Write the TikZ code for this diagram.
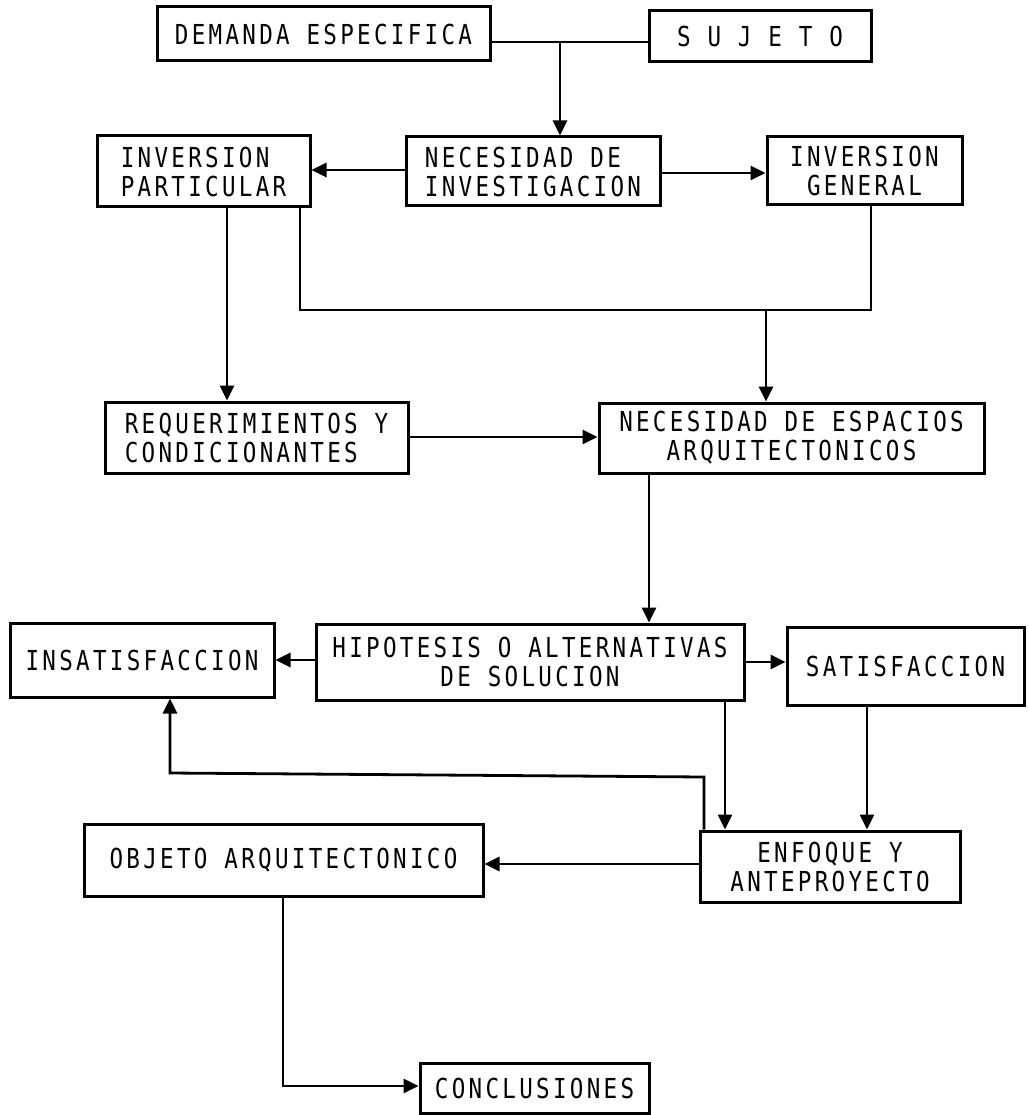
\documentclass[tikz,border=0pt]{standalone}
\usepackage{fontspec}
\newfontfamily\twfont[FakeStretch=0.82,LetterSpace=12]{DejaVu Sans Mono}
\usetikzlibrary{arrows.meta}
\begin{document}
\begin{tikzpicture}[x=1pt,y=-1pt,
  box/.style={draw, line width=3pt, inner sep=0pt, font=\twfont\fontsize{27.5}{29}\selectfont},
  conn/.style={line width=2.8pt},
  arr/.style={conn, -{Triangle[length=15pt,width=14pt]}}
]
\useasboundingbox[fill=white] (0,0) rectangle (1028,1115);

% nodes
\node[box, minimum width=333pt, minimum height=54pt] (dem) at (323.5,34) {DEMANDA ESPECIFICA};
\node[box, minimum width=222pt, minimum height=51pt] (suj) at (760,36.5) {S U J E T O};
\node[box, minimum width=213pt, minimum height=71pt, align=left] (invp) at (203.5,171.5) {INVERSION\\PARTICULAR};
\node[box, minimum width=254pt, minimum height=69pt, align=left] (necinv) at (533,171.5) {NECESIDAD DE\\INVESTIGACION};
\node[box, minimum width=195pt, minimum height=68pt, align=center] (invg) at (864.5,171) {INVERSION\\GENERAL};
\node[box, minimum width=303pt, minimum height=71pt, align=left] (req) at (256.5,437.5) {REQUERIMIENTOS Y\\CONDICIONANTES};
\node[box, minimum width=385pt, minimum height=70pt, align=center] (necesp) at (791.5,438) {NECESIDAD DE ESPACIOS\\ARQUITECTONICOS};
\node[box, minimum width=264pt, minimum height=74pt] (insat) at (142,660) {INSATISFACCION};
\node[box, minimum width=428pt, minimum height=76pt, align=center] (hipot) at (530,662) {HIPOTESIS O ALTERNATIVAS\\DE SOLUCION};
\node[box, minimum width=237pt, minimum height=78pt] (satisf) at (905.5,666) {SATISFACCION};
\node[box, minimum width=399pt, minimum height=72pt] (objeto) at (283.5,860) {OBJETO ARQUITECTONICO};
\node[box, minimum width=260pt, minimum height=71pt, align=center] (enfoque) at (830,866.5) {ENFOQUE Y\\ANTEPROYECTO};
\node[box, minimum width=229pt, minimum height=50pt] (concl) at (534.5,1088) {CONCLUSIONES};

% helper coordinates
\coordinate (j1) at (560,42);
\coordinate (ya) at (0,170);
\coordinate (yb) at (0,173);
\coordinate (c1) at (227,0);
\coordinate (c2) at (300,310);
\coordinate (c3) at (871,310);
\coordinate (j2) at (766,310);
\coordinate (c4) at (0,437);
\coordinate (c5) at (649,0);
\coordinate (yc) at (0,660);
\coordinate (yd) at (0,662);
\coordinate (c6) at (725,0);
\coordinate (c7) at (867,0);
\coordinate (f1) at (704,777);
\coordinate (f2) at (170,773);
\coordinate (ye) at (0,864);
\coordinate (f3) at (283,1086);

% connectors
\draw[conn] (dem.east |- j1) -- (suj.west |- j1);
\draw[arr] (j1) -- (necinv.north -| j1);
\draw[arr] (necinv.west |- ya) -- (invp.east |- ya);
\draw[arr] (necinv.east |- yb) -- (invg.west |- yb);
\draw[arr] (invp.south -| c1) -- (req.north -| c1);
\draw[conn] (invp.south -| c2) -- (c2) -- (c3) -- (invg.south -| c3);
\draw[arr] (j2) -- (necesp.north -| j2);
\draw[arr] (req.east |- c4) -- (necesp.west |- c4);
\draw[arr] (necesp.south -| c5) -- (hipot.north -| c5);
\draw[arr] (hipot.west |- yc) -- (insat.east |- yc);
\draw[arr] (hipot.east |- yd) -- (satisf.west |- yd);
\draw[arr] (hipot.south -| c6) -- (enfoque.north -| c6);
\draw[arr] (satisf.south -| c7) -- (enfoque.north -| c7);
\draw[arr] (enfoque.north -| f1) -- (f1) -- (f2) -- (insat.south -| f2);
\draw[arr] (enfoque.west |- ye) -- (objeto.east |- ye);
\draw[arr] (objeto.south -| f3) -- (f3) -- (concl.west |- f3);
\end{tikzpicture}
\end{document}
